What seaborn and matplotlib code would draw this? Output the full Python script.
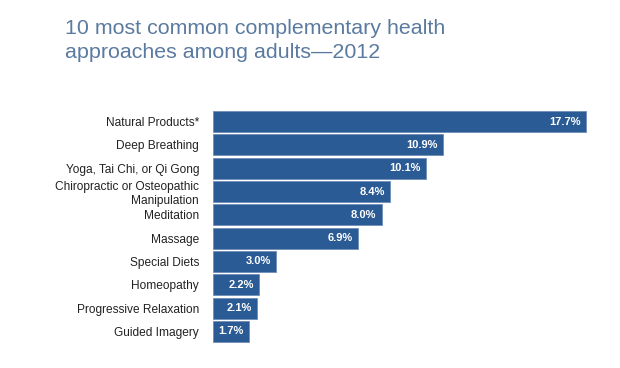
import matplotlib
matplotlib.use("Agg")
import matplotlib.pyplot as plt
import seaborn as sns
import pandas as pd

# data ---------------------------------------------------------------
approaches = [
    "Natural Products*", "Deep Breathing", "Yoga, Tai Chi, or Qi Gong",
    "Chiropractic or Osteopathic\nManipulation", "Meditation", "Massage",
    "Special Diets", "Homeopathy", "Progressive Relaxation", "Guided Imagery",
]
percent = [17.7, 10.9, 10.1, 8.4, 8.0, 6.9, 3.0, 2.2, 2.1, 1.7]

title = "10 most common complementary health\napproaches among adults\u20142012"
bar_color = "#2b5b95"
title_color = "#5a7aa0"

df = pd.DataFrame({"approach": approaches, "pct": percent})

sns.set_theme(style="white")
plt.rcParams["font.family"] = ["Liberation Sans", "DejaVu Sans"]

fig = plt.figure(figsize=(6.2, 3.68), dpi=100)
ax = fig.add_axes([0.3435, 0.068, 0.6565, 0.633])

sns.barplot(data=df, y="approach", x="pct", orient="h", color=bar_color,
            saturation=1, width=0.9, edgecolor="#6f8fb8", linewidth=0.6, ax=ax)

ax.set_xlim(0, 19.32)
ax.set_ylim(9.5, -0.5)
for i, v in enumerate(percent):
    ax.text(v - 0.25, i, f"{v:.1f}%", ha="right", va="center",
            color="white", fontsize=8, fontweight="bold")

ax.set_xlabel(""); ax.set_ylabel("")
ax.set_xticks([])
ax.tick_params(axis="y", length=0, pad=10, labelsize=8.6, labelcolor="#222222")
for lbl in ax.get_yticklabels():
    lbl.set_horizontalalignment("right")
    lbl.set_multialignment("right")
sns.despine(ax=ax, left=True, bottom=True)

fig.text(0.105, 0.948, title, ha="left", va="top", fontsize=15.4,
         color=title_color, linespacing=1.3)

fig.savefig("out.png", dpi=100)
